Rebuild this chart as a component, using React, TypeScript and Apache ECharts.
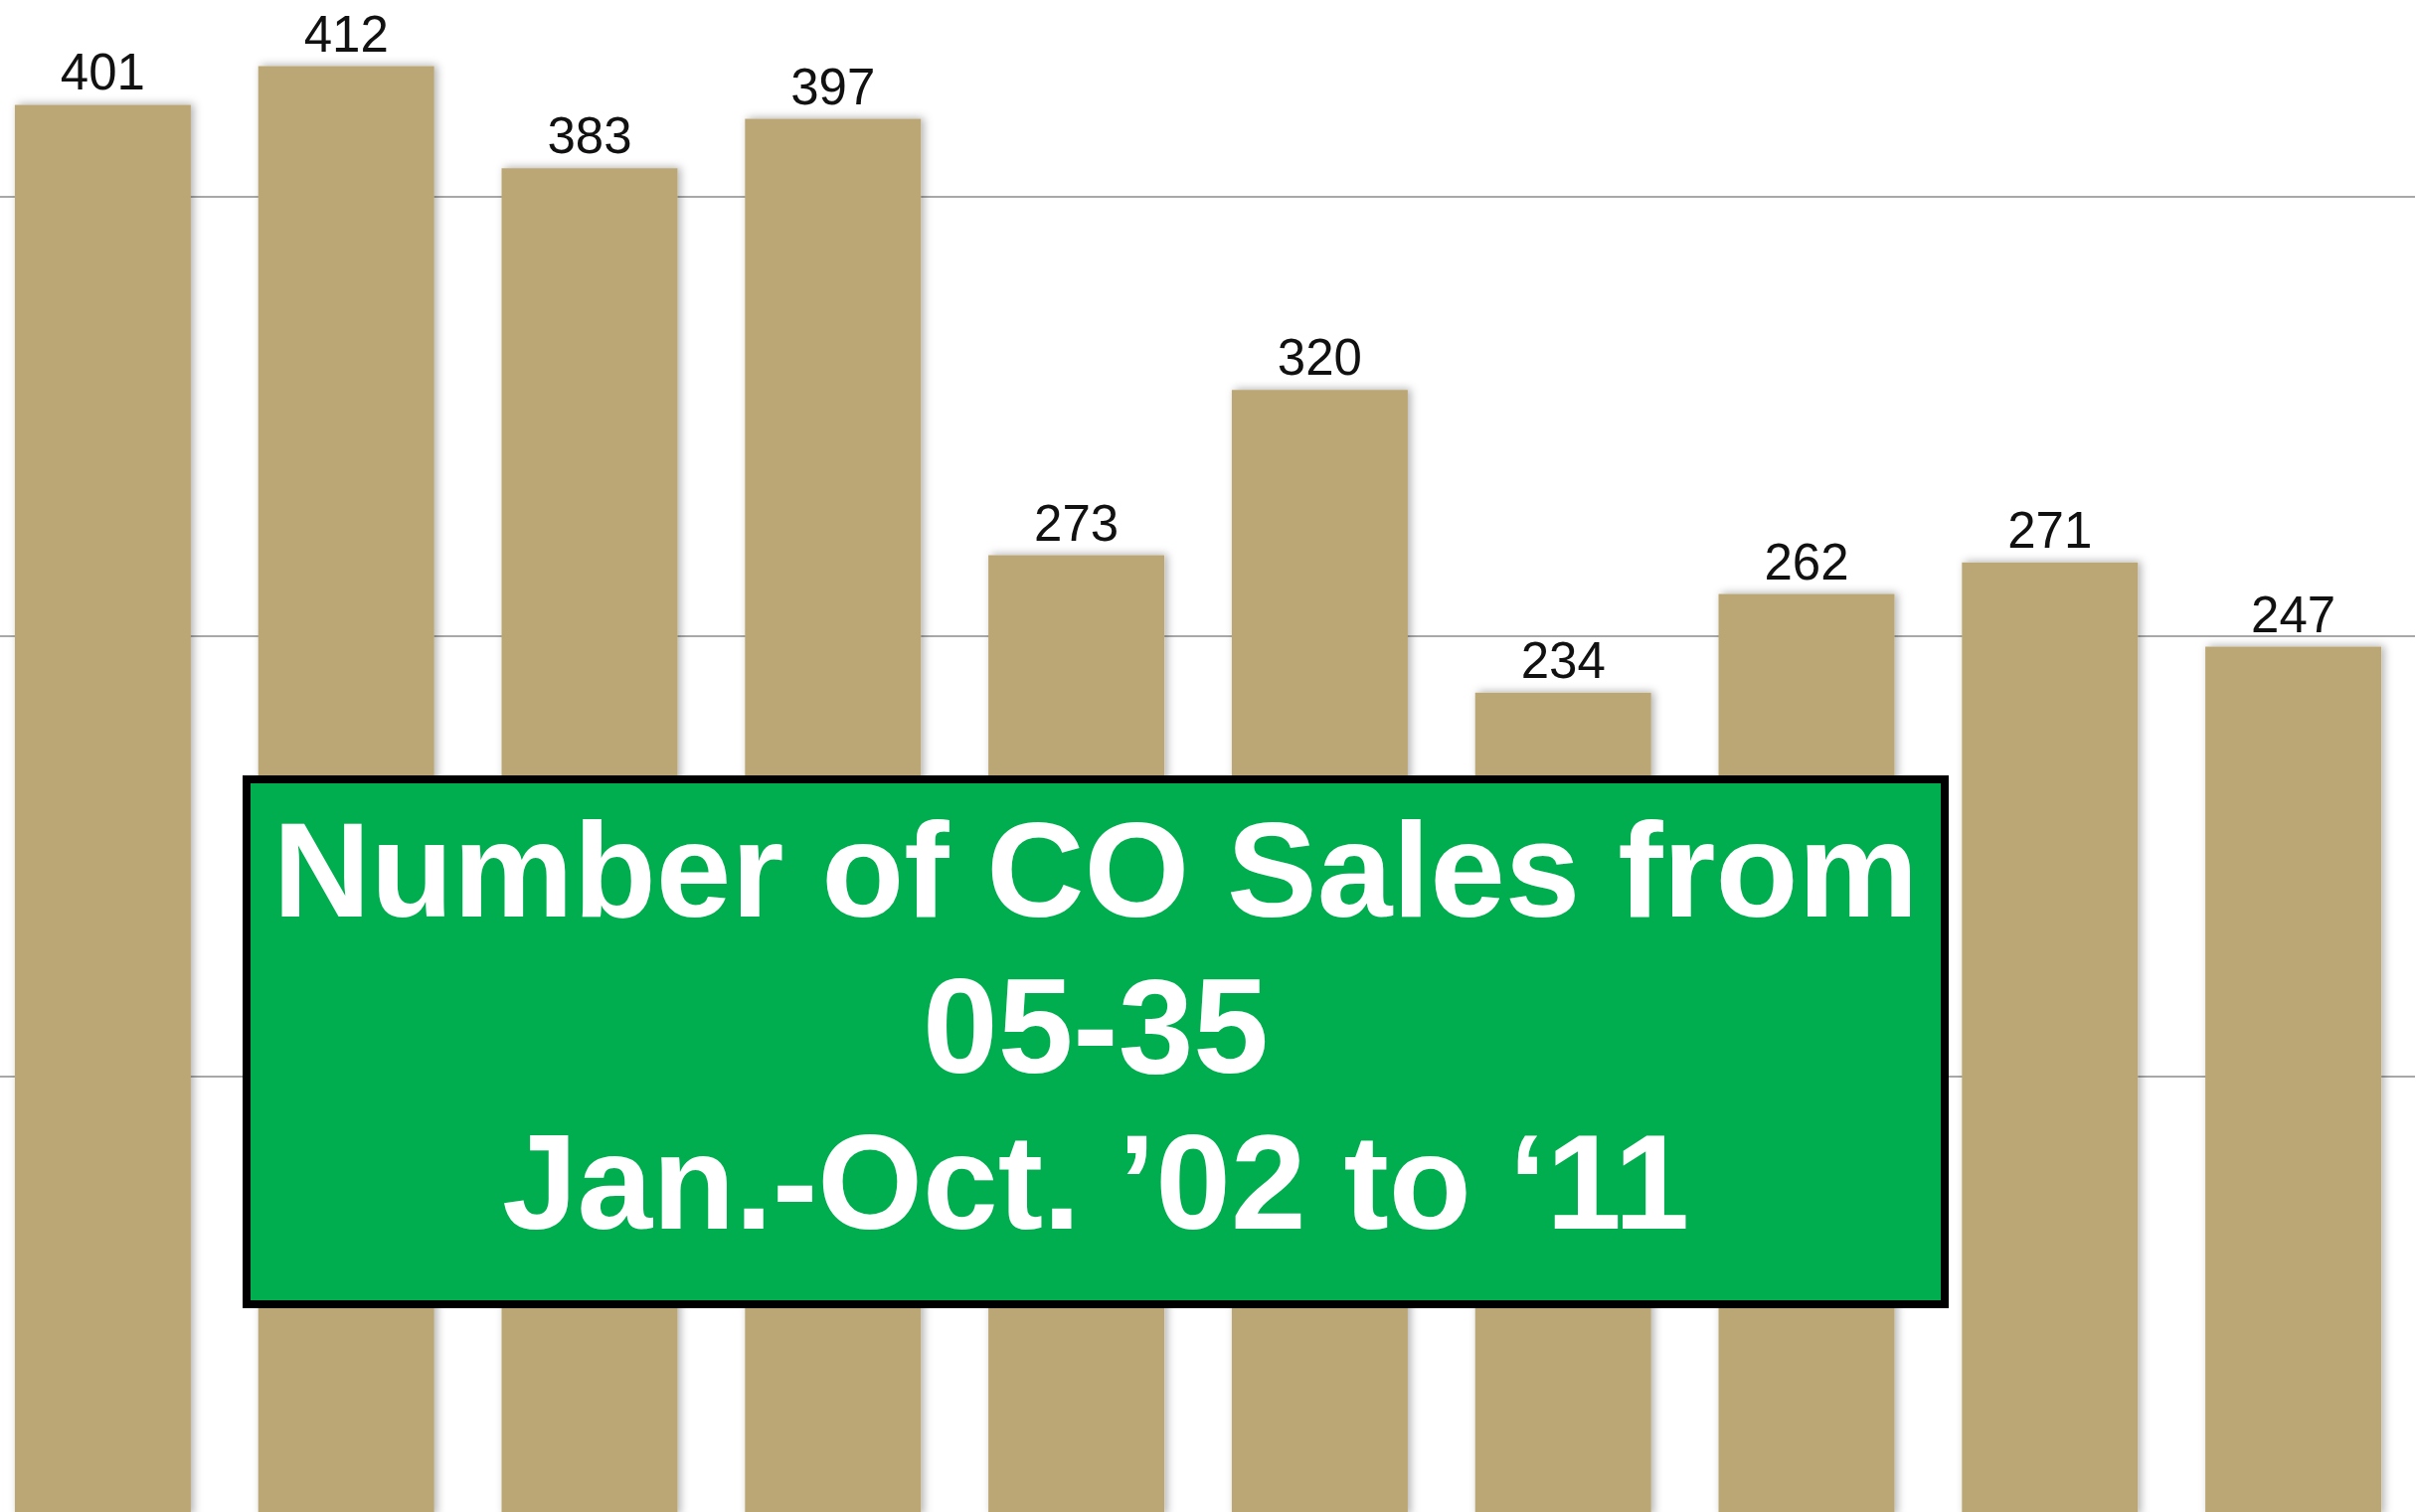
import React, { useEffect, useRef } from "react";
import * as echarts from "echarts";

const years = ["2002", "2003", "2004", "2005", "2006", "2007", "2008", "2009", "2010", "2011"];
const sales = [401, 412, 383, 397, 273, 320, 234, 262, 271, 247];
const yMin = 0;
const yMax = 500;
const yStep = 125;
const titleLines = ["Number of CO Sales from", "05-35", "Jan.-Oct. \u201902 to \u201811"];

// chart canvas is larger than the visible page and offset, so the axis extends past the crop
const OFF_X = -19;
const OFF_Y = -245;

export default function App() {
  const ref = useRef<HTMLDivElement>(null);
  useEffect(() => {
    if (!ref.current) return;
    const chart = echarts.init(ref.current, undefined, { renderer: "svg" });
    chart.setOption({
      animation: false,
      backgroundColor: "#ffffff",
      grid: { left: 0, right: 0, top: 0, bottom: 0, containLabel: false },
      xAxis: {
        type: "category",
        data: years,
        axisLine: { show: false },
        axisTick: { show: false },
        axisLabel: { show: false },
        splitLine: { show: false },
      },
      yAxis: {
        type: "value",
        min: yMin,
        max: yMax,
        interval: yStep,
        axisLine: { show: false },
        axisTick: { show: false },
        axisLabel: { show: false },
        splitLine: { show: true, lineStyle: { color: "#a8a8a8", width: 2 } },
      },
      series: [
        {
          type: "bar",
          data: sales,
          barCategoryGap: "27.7%",
          itemStyle: {
            color: "#bba774",
            shadowBlur: 8,
            shadowOffsetX: 3,
            shadowOffsetY: -1,
            shadowColor: "rgba(0,0,0,0.3)",
          },
          label: {
            show: true,
            position: "top",
            distance: 7,
            color: "#111111",
            fontFamily: "Liberation Sans",
            fontSize: 51,
            fontWeight: "normal",
          },
        },
      ],
      graphic: [
        {
          type: "rect",
          z: 100,
          shape: { x: 248 - OFF_X, y: 784 - OFF_Y, width: 1708, height: 528 },
          style: { fill: "#00ae4f", stroke: "#000000", lineWidth: 8 },
        },
        {
          type: "text",
          z: 101,
          x: 1102 - OFF_X,
          y: 1032 - OFF_Y,
          style: {
            text: titleLines.join("\n"),
            fill: "#ffffff",
            font: "bold 136px 'Liberation Sans'",
            lineHeight: 157,
            align: "center",
            verticalAlign: "middle",
          },
        },
      ],
    });
    return () => chart.dispose();
  }, []);
  return (
    <div style={{ position: "absolute", left: 0, top: 0, width: 2430, height: 1521, overflow: "hidden", background: "#fff" }}>
      <div
        ref={ref}
        style={{ position: "absolute", left: OFF_X, top: OFF_Y, width: 2448, height: 1770 }}
      />
    </div>
  );
}
